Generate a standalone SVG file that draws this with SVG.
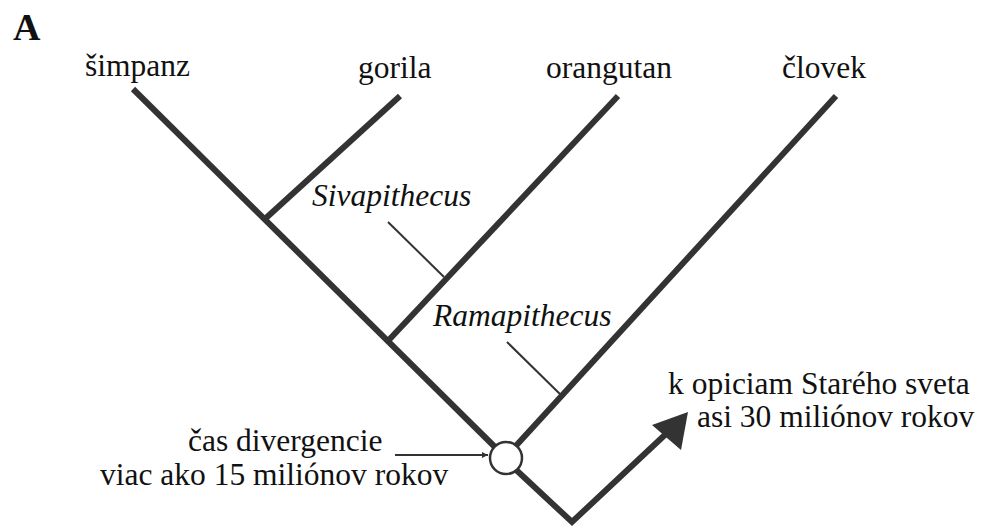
<svg xmlns="http://www.w3.org/2000/svg" width="983" height="528" viewBox="0 0 983 528">
<defs>
<style>
.b{stroke:#333;stroke-width:6;fill:none}
.p{stroke:#333;stroke-width:2;fill:none}
</style>
<marker id="ah" viewBox="0 0 10 10" refX="10" refY="5" markerWidth="9" markerHeight="6" markerUnits="userSpaceOnUse" orient="auto"><path d="M0,0L10,5L0,10z" fill="#333"/></marker>
</defs>
<rect width="983" height="528" fill="#fff"/>
<g id="connectors">
<path class="b" d="M133,89L501,453"/>
<path class="b" d="M400,96L266,218"/>
<path class="b" d="M618,96L387,342"/>
<path class="b" d="M836,96L513,449"/>
<path class="b" d="M513,467L572,522L668,432"/>
<polygon points="688,412 652,425 681,450" fill="#333"/>
<path class="p" d="M388,222L444,277"/>
<path class="p" d="M507,342L563,397"/>
<path class="p" d="M395,455L488,455" marker-end="url(#ah)"/>
</g>
<g id="node-root"><circle cx="506" cy="458" r="16" fill="#fff" stroke="#333" stroke-width="2.5"/></g>
<g font-family="Liberation Serif" font-size="31.5" fill="#111">
<text x="13" y="40" font-weight="bold" font-size="38">A</text>
<g id="simpanz"><text x="85" y="76">šimpanz</text></g>
<g id="gorila"><text x="358" y="78">gorila</text></g>
<g id="orangutan"><text x="546" y="78">orangutan</text></g>
<g id="clovek"><text x="782" y="78">človek</text></g>
<g id="sivapithecus"><text x="312" y="206" font-style="italic">Sivapithecus</text></g>
<g id="ramapithecus"><text x="433" y="326" font-style="italic">Ramapithecus</text></g>
<g id="opice"><text x="668" y="394">k opiciam Starého sveta</text><text x="697" y="427">asi 30 miliónov rokov</text></g>
<g id="divergencia"><text x="188" y="451">čas divergencie</text><text x="100" y="485">viac ako 15 miliónov rokov</text></g>
</g>
</svg>
